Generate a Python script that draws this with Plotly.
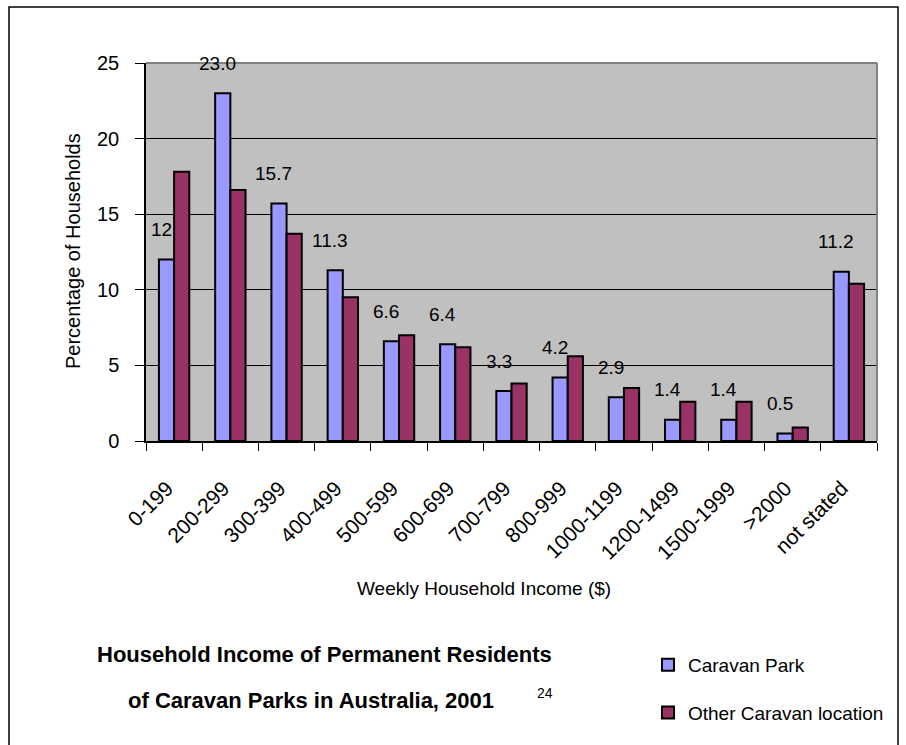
import plotly.graph_objects as go

categories = ["0-199", "200-299", "300-399", "400-499", "500-599", "600-699",
              "700-799", "800-999", "1000-1199", "1200-1499", "1500-1999",
              ">2000", "not stated"]
caravan_park = [12.0, 23.0, 15.7, 11.3, 6.6, 6.4, 3.3, 4.2, 2.9, 1.4, 1.4, 0.5, 11.2]
other_location = [17.8, 16.6, 13.7, 9.5, 7.0, 6.2, 3.8, 5.6, 3.5, 2.6, 2.6, 0.9, 10.4]
park_labels = ["12", "23.0", "15.7", "11.3", "6.6", "6.4", "3.3", "4.2", "2.9",
               "1.4", "1.4", "0.5", "11.2"]
y_ticks = [0, 5, 10, 15, 20, 25]

FONT = "Liberation Sans, Arial, sans-serif"
W, H = 906, 745
L, R, T, B = 146, 29, 63, 304
PW, PH = W - L - R, H - T - B


def px_x(x):
    return (x - L) / PW


def px_y(y):
    return (H - B - y) / PH


fig = go.Figure()
fig.add_trace(go.Bar(
    x=categories, y=caravan_park, name="Caravan Park",
    marker=dict(color="#9999FF", line=dict(color="black", width=2)),
    legendgroup="a", cliponaxis=False,
))
fig.add_trace(go.Bar(
    x=categories, y=other_location, name="Other Caravan location",
    marker=dict(color="#993366", line=dict(color="black", width=2)),
    legendgroup="b", cliponaxis=False,
))

annotations = []
for c, v, t in zip(categories, caravan_park, park_labels):
    annotations.append(dict(
        x=c, y=v, xref="x", yref="y", text=t, showarrow=False,
        xanchor="center", yanchor="middle",
        xshift=-13, yshift=30, font=dict(family=FONT, size=19, color="black"),
    ))


def text_ann(x, y, text, size, angle=0):
    return dict(x=px_x(x), y=px_y(y), xref="paper", yref="paper", text=text,
                textangle=angle, showarrow=False, xanchor="center", yanchor="middle",
                font=dict(family=FONT, size=size, color="black"))


annotations += [
    text_ann(73, 251, "Percentage of Households", 20, -90),
    text_ann(484, 588, "Weekly Household Income ($)", 19),
    text_ann(324, 654, "<b>Household Income of Permanent Residents</b>", 22),
    text_ann(311, 700, "<b>of Caravan Parks in Australia, 2001</b>", 22),
    text_ann(545, 693, "24", 14),
]

shapes = [
    # outer chart border
    dict(type="rect", xref="paper", yref="paper",
         x0=px_x(9), x1=px_x(898), y0=px_y(760), y1=px_y(7),
         line=dict(color="black", width=1.5), layer="below"),
    # gray top / right plot border
    dict(type="line", xref="paper", yref="paper", x0=0, x1=1, y0=1, y1=1,
         line=dict(color="#808080", width=2), layer="above"),
    dict(type="line", xref="paper", yref="paper", x0=1, x1=1, y0=0, y1=1,
         line=dict(color="#808080", width=2), layer="above"),
]

fig.update_layout(
    width=W, height=H,
    margin=dict(l=L, r=R, t=T, b=B, pad=0, autoexpand=False),
    paper_bgcolor="white",
    plot_bgcolor="#C0C0C0",
    barmode="group",
    bargap=0.46,
    bargroupgap=0,
    font=dict(family=FONT, size=19, color="black"),
    showlegend=True,
    legend=dict(
        x=px_x(648), y=px_y(646), xanchor="left", yanchor="top",
        orientation="v", bgcolor="rgba(0,0,0,0)",
        font=dict(family=FONT, size=19, color="black"),
        tracegroupgap=20, traceorder="grouped",
    ),
    annotations=annotations,
    shapes=shapes,
    xaxis=dict(
        type="category", tickangle=-45, ticks="outside", tickson="boundaries",
        ticklen=8, tickcolor="black", tickwidth=1,
        showline=True, linecolor="black", linewidth=1.5,
        showgrid=False, ticklabelstandoff=25, ticklabelshift=-7,
        tickfont=dict(family=FONT, size=21, color="black"),
    ),
    yaxis=dict(
        range=[0, 25], tickvals=y_ticks, ticks="outside", ticklen=9,
        tickcolor="black", tickwidth=1,
        showline=True, linecolor="black", linewidth=1.5,
        showgrid=True, gridcolor="black", gridwidth=1,
        zeroline=False, ticklabelstandoff=12,
        tickfont=dict(family=FONT, size=20, color="black"),
    ),
)

fig.write_html("out.html")
